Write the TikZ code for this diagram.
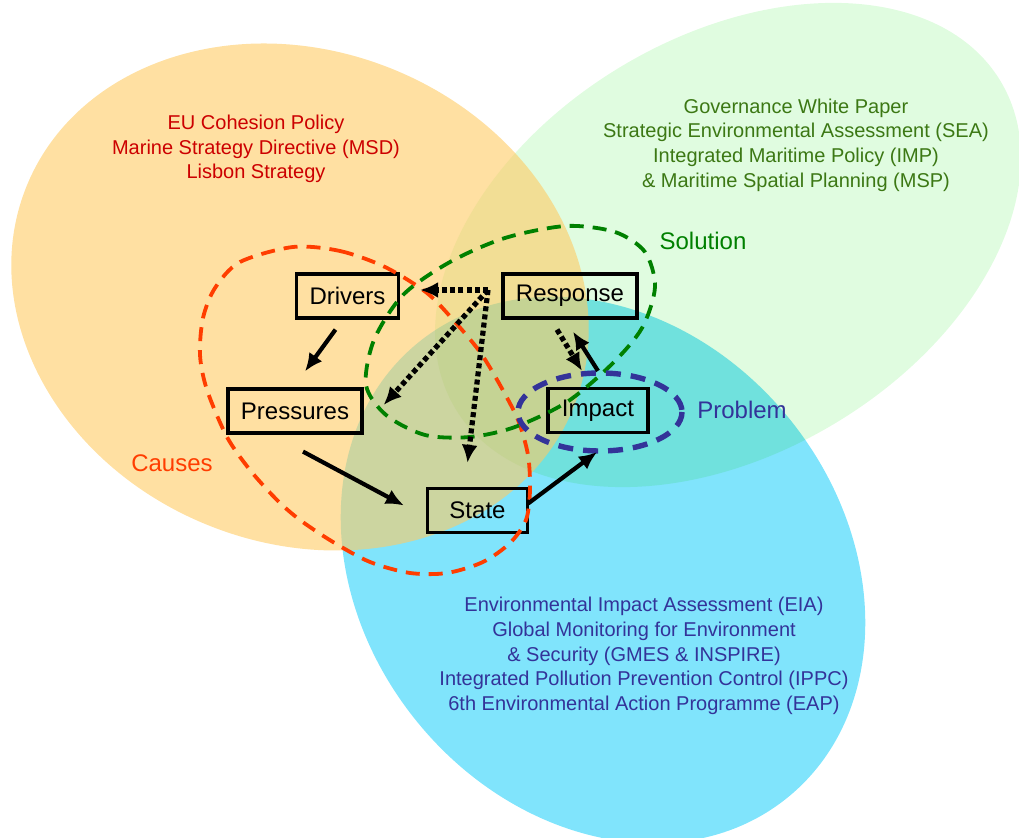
\documentclass[tikz,border=0pt]{standalone}
\usepackage{fontspec}
\setmainfont{Liberation Sans}
\usetikzlibrary{arrows.meta}
\definecolor{orangefill}{RGB}{255,203,100}
\definecolor{greenfill}{RGB}{224,252,224}
\definecolor{cyanfill}{RGB}{128,228,252}
\definecolor{policyred}{RGB}{204,0,0}
\definecolor{policygreen}{RGB}{60,120,20}
\definecolor{policyblue}{RGB}{51,51,153}
\definecolor{causesred}{RGB}{255,61,0}
\definecolor{solutiongreen}{RGB}{0,128,0}
\begin{document}
\begin{tikzpicture}[x=0.5pt,y=-0.5pt,
	box/.style={draw,line width=1.6pt,minimum width=50pt,minimum height=22pt,inner xsep=6.5pt,
		font=\fontsize{12}{14}\selectfont},
	policy/.style={align=center,font=\fontsize{10}{12.3}\selectfont},
	tag/.style={font=\fontsize{12}{14}\selectfont},
	loop/.style={line width=1.9pt,dash pattern=on 7pt off 4.5pt},
	arr/.style={line width=2.1pt,-{Latex[length=9pt,width=8pt]}},
	dots/.style={line width=2.6pt,dash pattern=on 2.5pt off 1.6pt,-{Latex[length=9pt,width=8pt]}}]
\useasboundingbox (0,0) rectangle (1019,838);
\fill[cyanfill,rotate around={-51:(603,570)}] (603,570) ellipse [x radius=293,y radius=240];
\begin{scope}[blend mode=multiply]
\fill[greenfill,rotate around={31:(728,245)}] (728,245) ellipse [x radius=318,y radius=208];
\end{scope}
\fill[orangefill,fill opacity=0.6,rotate around={-22:(300,297)}] (300,297) ellipse [x radius=295,y radius=246];

\node[policy,text=policyred] (eu) at (256,149) {EU Cohesion Policy\\Marine Strategy Directive (MSD)\\Lisbon Strategy};
\node[policy,text=policygreen] (gov) at (796,145) {Governance White Paper\\Strategic Environmental Assessment (SEA)\\
	Integrated Maritime Policy (IMP)\\\& Maritime Spatial Planning (MSP)};
\node[policy,text=policyblue] (eia) at (644,656) {Environmental Impact Assessment (EIA)\\Global Monitoring for Environment\\
	\& Security (GMES \& INSPIRE)\\Integrated Pollution Prevention Control (IPPC)\\6th Environmental Action Programme (EAP)};
\node[tag,text=causesred] (causes) at (172,463) {Causes};
\node[tag,text=solutiongreen] (solution) at (703,241) {Solution};
\node[tag,text=policyblue] (problem) at (742,410) {Problem};

\node[box] (drivers) at (347.5,296) {Drivers};
\node[box] (response) at (570,296) {Response};
\node[box] (pressures) at (295,411) {Pressures};
\node[box] (impact) at (598,410.5) {Impact};
\node[box] (state) at (477.5,510.5) {State};
\coordinate (hub) at (488,290);

\draw[loop,causesred] plot[smooth cycle] coordinates {(293,247) (340,251) (385,267) (427,293) (455,322) (480,352)
	(500,385) (518,420) (528,455) (530,490) (526,520) (510,543) (483,562) (447,573) (410,573) (370,562)
	(333,542) (300,520) (277,500) (250,470) (227,437) (207,390) (200,355) (203,318) (215,288) (240,262)};
\draw[loop,solutiongreen] plot[smooth cycle] coordinates {(566,226) (615,232) (645,252) (655,287) (642,328)
	(612,364) (567,402) (515,427) (470,437) (425,435) (386,415) (366,385) (374,340) (403,295) (450,262) (505,238)};
\draw[line width=2.7pt,dash pattern=on 7.5pt off 5pt,policyblue] (600,412) ellipse [x radius=82,y radius=39];

\draw[arr] ([shift={(-6pt,-5pt)}]drivers.south) -- ([shift={(5pt,8pt)}]pressures.north);
\draw[arr] ([shift={(4pt,-8.5pt)}]pressures.south) -- ([shift={(-11pt,2.5pt)}]state.west);
\draw[arr] ([shift={(-0.5pt,3.5pt)}]state.east) -- ([shift={(-0.5pt,-9pt)}]impact.south);
\draw[arr] ([shift={(0pt,8pt)}]impact.north) -- ([shift={(1.5pt,-6pt)}]response.south);
\draw[dots] ([shift={(-6.5pt,-5pt)}]response.south) -- ([shift={(-8pt,8pt)}]impact.north);
\draw[dots] (hub) -- ([shift={(10pt,3pt)}]drivers.east);
\draw[dots] (hub) -- ([shift={(10pt,3pt)}]pressures.east);
\draw[dots] (hub) -- ([shift={(-5pt,12pt)}]state.north);
\end{tikzpicture}
\end{document}
